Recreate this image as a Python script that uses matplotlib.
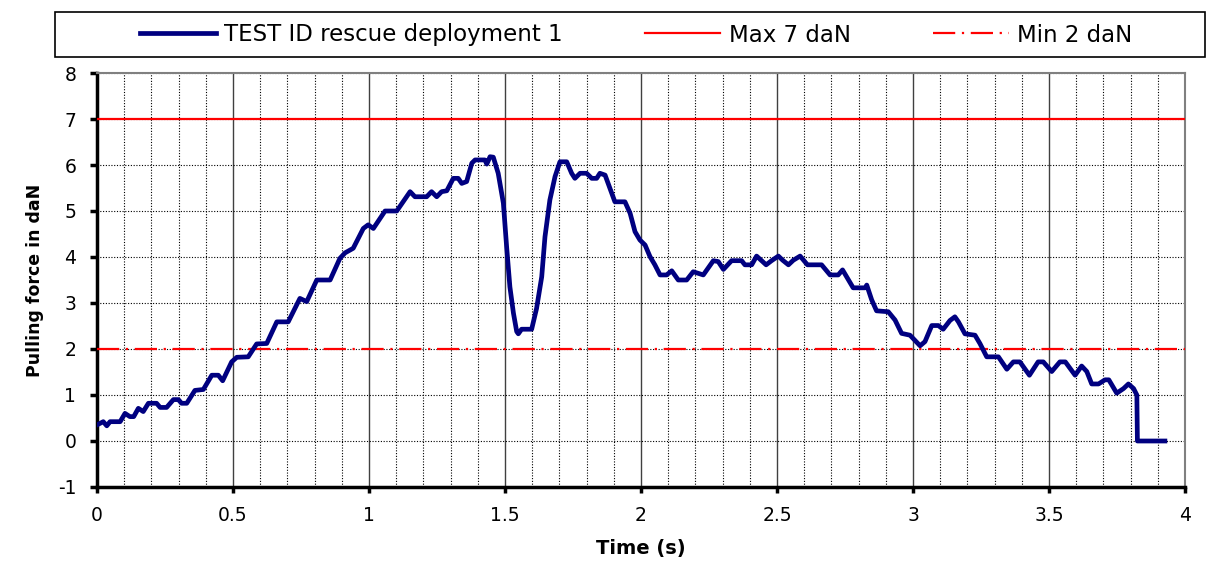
import matplotlib
matplotlib.use('Agg')
from matplotlib import pyplot as plt
from matplotlib.patches import Rectangle
from matplotlib.ticker import MultipleLocator, FormatStrFormatter

plt.rcParams['axes.unicode_minus'] = False

# pulling force trace
time_s = [0.0, 0.023, 0.036, 0.048, 0.085, 0.103, 0.121, 0.135, 0.152, 0.170, 0.189, 0.219, 0.232,
          0.256, 0.281, 0.299, 0.311, 0.330, 0.360, 0.391, 0.422, 0.446, 0.462, 0.495, 0.514, 0.556,
          0.587, 0.624, 0.661, 0.703, 0.746, 0.771, 0.808, 0.857, 0.893, 0.912, 0.942, 0.979, 0.997,
          1.016, 1.059, 1.102, 1.151, 1.169, 1.212, 1.230, 1.249, 1.267, 1.286, 1.310, 1.328, 1.341,
          1.359, 1.378, 1.390, 1.426, 1.433, 1.445, 1.457, 1.475, 1.494, 1.506, 1.518, 1.531, 1.543,
          1.549, 1.561, 1.598, 1.616, 1.635, 1.647, 1.665, 1.684, 1.702, 1.727, 1.745, 1.757, 1.776,
          1.800, 1.819, 1.837, 1.849, 1.868, 1.886, 1.904, 1.941, 1.960, 1.978, 1.996, 2.015, 2.033,
          2.051, 2.070, 2.094, 2.113, 2.137, 2.168, 2.192, 2.229, 2.266, 2.284, 2.303, 2.333, 2.370,
          2.382, 2.407, 2.425, 2.460, 2.480, 2.505, 2.521, 2.542, 2.560, 2.585, 2.612, 2.664, 2.695,
          2.725, 2.741, 2.756, 2.780, 2.824, 2.830, 2.848, 2.866, 2.909, 2.934, 2.958, 2.989, 3.026,
          3.044, 3.069, 3.093, 3.111, 3.136, 3.154, 3.167, 3.191, 3.228, 3.246, 3.271, 3.314, 3.345,
          3.369, 3.393, 3.428, 3.460, 3.479, 3.510, 3.540, 3.560, 3.596, 3.620, 3.639, 3.657, 3.682,
          3.706, 3.720, 3.749, 3.774, 3.792, 3.811, 3.823, 3.825, 3.926]
force_dan = [0.35, 0.42, 0.33, 0.42, 0.42, 0.60, 0.53, 0.53, 0.71, 0.64, 0.82, 0.82, 0.73,
             0.73, 0.90, 0.90, 0.82, 0.82, 1.10, 1.12, 1.43, 1.43, 1.31, 1.72, 1.82, 1.83,
             2.11, 2.12, 2.59, 2.59, 3.10, 3.03, 3.50, 3.50, 3.97, 4.09, 4.19, 4.62, 4.70,
             4.62, 5.00, 5.00, 5.42, 5.31, 5.31, 5.42, 5.31, 5.42, 5.44, 5.71, 5.71, 5.60,
             5.64, 6.04, 6.11, 6.11, 6.02, 6.18, 6.17, 5.82, 5.17, 4.22, 3.35, 2.78, 2.38,
             2.33, 2.43, 2.43, 2.88, 3.57, 4.44, 5.24, 5.75, 6.07, 6.07, 5.82, 5.71, 5.82,
             5.82, 5.71, 5.71, 5.82, 5.78, 5.49, 5.20, 5.20, 4.95, 4.55, 4.37, 4.26, 4.01,
             3.83, 3.61, 3.61, 3.70, 3.50, 3.50, 3.68, 3.61, 3.92, 3.90, 3.73, 3.92, 3.92,
             3.83, 3.83, 4.02, 3.83, 3.92, 4.02, 3.93, 3.83, 3.93, 4.02, 3.83, 3.83, 3.61,
             3.61, 3.72, 3.57, 3.33, 3.33, 3.39, 3.07, 2.83, 2.81, 2.63, 2.34, 2.30, 2.07,
             2.16, 2.51, 2.51, 2.43, 2.62, 2.70, 2.59, 2.33, 2.30, 2.12, 1.83, 1.83, 1.56,
             1.72, 1.72, 1.43, 1.72, 1.72, 1.51, 1.72, 1.72, 1.43, 1.63, 1.51, 1.24, 1.24,
             1.33, 1.33, 1.04, 1.14, 1.24, 1.14, 1.00, 0.0, 0.0]
max_force = 7
min_force = 2

fig = plt.figure(figsize=(12.08, 5.74), dpi=100)
ax = fig.add_axes([97 / 1208, 87 / 574, 1088 / 1208, 414 / 574])

ax.plot(time_s, force_dan, color='#000080', lw=3.4, solid_joinstyle='round',
        label='TEST ID rescue deployment 1', zorder=4)
ax.axhline(max_force, color='#ff0000', lw=1.6, label='Max 7 daN', zorder=3)
ax.axhline(min_force, color='#ff0000', lw=1.6, dashes=(10, 3, 1, 3), label='Min 2 daN', zorder=3)

ax.set_xlim(0, 4)
ax.set_ylim(-1, 8)
ax.xaxis.set_major_locator(MultipleLocator(0.5))
ax.xaxis.set_minor_locator(MultipleLocator(0.1))
ax.xaxis.set_major_formatter(FormatStrFormatter('%g'))
ax.yaxis.set_major_locator(MultipleLocator(1))

ax.grid(which='minor', axis='x', color='black', lw=0.8, dashes=(1, 1.5))
ax.grid(which='major', axis='x', color='#404040', lw=1.0)
ax.grid(which='major', axis='y', color='black', lw=0.8, dashes=(1, 1.5))
ax.set_axisbelow(True)

for side in ['left', 'bottom']:
    ax.spines[side].set_linewidth(2.5)
    ax.spines[side].set_color('black')
for side in ['top', 'right']:
    ax.spines[side].set_linewidth(1.5)
    ax.spines[side].set_color('#808080')

ax.tick_params(which='major', direction='out', width=2.5, labelsize=13.5)
ax.tick_params(axis='x', which='major', length=4, pad=10)
ax.tick_params(axis='y', which='major', length=5, pad=10)
ax.tick_params(which='minor', length=0)
ax.set_xlabel('Time (s)', fontsize=14, fontweight='bold', labelpad=10)
ax.set_ylabel('Pulling force in daN', fontsize=12.5, fontweight='bold', labelpad=10)

# legend box across the top
fig.patches.append(Rectangle((55 / 1208, 1 - 57 / 574), 1150 / 1208, 45 / 574,
                             transform=fig.transFigure, fill=False, ec='black', lw=1.2))
handles, labels = ax.get_legend_handles_labels()
fig.legend(handles, labels, ncol=3, loc='center', bbox_to_anchor=(636 / 1208, 1 - 35 / 574),
           frameon=False, fontsize=16.5, handlelength=3.3, handletextpad=0.35, columnspacing=3.6)

fig.savefig('out.png', dpi=100)
